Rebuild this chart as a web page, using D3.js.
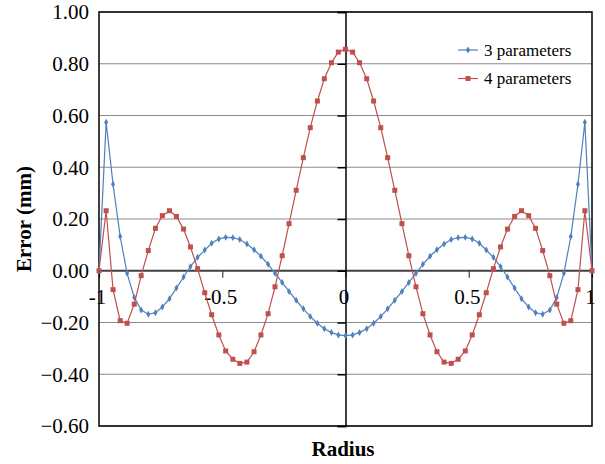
<!DOCTYPE html>
<html>
<head>
<meta charset="utf-8">
<script src="https://cdn.jsdelivr.net/npm/d3@7"></script>
<style>
  html, body { margin: 0; padding: 0; background: #fff; }
  svg { display: block; }
  text { font-family: "Liberation Serif", "Times New Roman", serif; fill: #000; }
</style>
</head>
<body>
<svg id="chart" width="605" height="464"></svg>
<script>
// Sample radii across the lens aperture
const radius = [
  -1.000, -0.971, -0.943, -0.914, -0.886, -0.857, -0.829, -0.800, -0.771, -0.743,
  -0.714, -0.686, -0.657, -0.629, -0.600, -0.571, -0.543, -0.514, -0.486, -0.457,
  -0.429, -0.400, -0.371, -0.343, -0.314, -0.286, -0.257, -0.229, -0.200, -0.171,
  -0.143, -0.114, -0.086, -0.057, -0.029, 0.000,
  0.029, 0.057, 0.086, 0.114, 0.143, 0.171, 0.200, 0.229, 0.257, 0.286,
  0.314, 0.343, 0.371, 0.400, 0.429, 0.457, 0.486, 0.514, 0.543, 0.571,
  0.600, 0.629, 0.657, 0.686, 0.714, 0.743, 0.771, 0.800, 0.829, 0.857,
  0.886, 0.914, 0.943, 0.971, 1.000
];

// Fit error (mm), 3-parameter model
const error3 = [
  0.000, 0.574, 0.334, 0.132, -0.010, -0.103, -0.152, -0.168, -0.162, -0.140,
  -0.108, -0.067, -0.024, 0.016, 0.052, 0.080, 0.106, 0.123, 0.129, 0.128,
  0.121, 0.103, 0.081, 0.056, 0.025, -0.010, -0.045, -0.080, -0.114, -0.147,
  -0.177, -0.203, -0.224, -0.239, -0.248, -0.251,
  -0.248, -0.239, -0.224, -0.203, -0.177, -0.147, -0.114, -0.080, -0.045, -0.010,
  0.025, 0.056, 0.081, 0.103, 0.121, 0.128, 0.129, 0.123, 0.106, 0.080,
  0.052, 0.016, -0.024, -0.067, -0.108, -0.140, -0.162, -0.168, -0.152, -0.103,
  -0.010, 0.132, 0.334, 0.574, 0.000
];

// Fit error (mm), 4-parameter model
const error4 = [
  0.000, 0.232, -0.073, -0.193, -0.203, -0.129, -0.019, 0.078, 0.164, 0.213,
  0.232, 0.210, 0.161, 0.092, 0.008, -0.085, -0.170, -0.248, -0.310, -0.342,
  -0.358, -0.353, -0.313, -0.248, -0.166, -0.062, 0.058, 0.182, 0.311, 0.437,
  0.553, 0.656, 0.742, 0.804, 0.845, 0.856,
  0.845, 0.804, 0.742, 0.656, 0.553, 0.437, 0.311, 0.182, 0.058, -0.062,
  -0.166, -0.248, -0.313, -0.353, -0.358, -0.342, -0.310, -0.248, -0.170, -0.085,
  0.008, 0.092, 0.161, 0.210, 0.232, 0.213, 0.164, 0.078, -0.019, -0.129,
  -0.203, -0.193, -0.073, 0.232, 0.000
];

const seriesNames = ["3 parameters", "4 parameters"];
const yTicks = [-0.6, -0.4, -0.2, 0, 0.2, 0.4, 0.6, 0.8, 1.0];
const xTicks = [-1, -0.5, 0, 0.5, 1];

const blue = "#4F81BD", red = "#C0504D";

const svg = d3.select("#chart");
const plot = { left: 99, top: 12, right: 592, bottom: 426 };

const x = d3.scaleLinear().domain([-1, 1]).range([plot.left, plot.right]);
const y = d3.scaleLinear().domain([-0.6, 1.0]).range([plot.bottom, plot.top]);

// horizontal gridlines
svg.append("g")
  .selectAll("line")
  .data(yTicks.filter(v => v !== 0))
  .join("line")
  .attr("x1", plot.left).attr("x2", plot.right)
  .attr("y1", d => y(d)).attr("y2", d => y(d))
  .attr("stroke", "#8c8c8c").attr("stroke-width", 1);

// y tick labels along the left edge of the plot
svg.append("g")
  .selectAll("text")
  .data(yTicks)
  .join("text")
  .attr("x", plot.left - 10)
  .attr("y", d => y(d))
  .attr("dy", "0.35em")
  .attr("text-anchor", "end")
  .attr("font-size", 21)
  .text(d => d3.format(".2f")(d));

// horizontal axis through y = 0
const xAxis = d3.axisBottom(x)
  .tickValues(xTicks)
  .tickSize(7)
  .tickFormat(d => String(d));
const gx = svg.append("g")
  .attr("transform", `translate(0,${y(0)})`)
  .call(xAxis);
gx.select(".domain").remove();
gx.selectAll(".tick line").attr("stroke", "#404040").attr("stroke-width", 1.2);
gx.selectAll(".tick text")
  .attr("font-family", "Liberation Serif, Times New Roman, serif")
  .attr("font-size", 21)
  .attr("fill", "#000")
  .attr("dx", -2)
  .attr("y", 18);
svg.append("line")
  .attr("x1", plot.left).attr("x2", plot.right)
  .attr("y1", y(0)).attr("y2", y(0))
  .attr("stroke", "#404040").attr("stroke-width", 2);

// vertical axis through x = 0
const yAxis = d3.axisLeft(y).tickValues(yTicks).tickSize(8).tickFormat("");
const gy = svg.append("g")
  .attr("transform", `translate(${x(0)},0)`)
  .call(yAxis);
gy.select(".domain").attr("stroke", "#000").attr("stroke-width", 1.5);
gy.selectAll(".tick line").attr("stroke", "#000").attr("stroke-width", 1.5);

// plot frame
svg.append("rect")
  .attr("x", plot.left).attr("y", plot.top)
  .attr("width", plot.right - plot.left).attr("height", plot.bottom - plot.top)
  .attr("fill", "none").attr("stroke", "#000").attr("stroke-width", 1.5);

const line = d3.line().x(d => x(d[0])).y(d => y(d[1]));
const diamond = d3.symbol().type(d3.symbolDiamond).size(14);

function drawSeries(values, color, marker) {
  const pts = radius.map((r, i) => [r, values[i]]);
  const g = svg.append("g");
  g.append("path")
    .datum(pts)
    .attr("d", line)
    .attr("fill", "none")
    .attr("stroke", color)
    .attr("stroke-width", 1.2);
  if (marker === "diamond") {
    g.selectAll("path.m").data(pts).join("path")
      .attr("class", "m")
      .attr("transform", d => `translate(${x(d[0])},${y(d[1])})`)
      .attr("d", diamond)
      .attr("fill", color);
  } else {
    g.selectAll("rect").data(pts).join("rect")
      .attr("x", d => x(d[0]) - 2.5).attr("y", d => y(d[1]) - 2.5)
      .attr("width", 5).attr("height", 5)
      .attr("fill", color);
  }
}
drawSeries(error3, blue, "diamond");
drawSeries(error4, red, "square");

// legend
const legend = svg.append("g");
[[seriesNames[0], blue, "diamond", 50], [seriesNames[1], red, "square", 78.5]].forEach(([name, color, marker, ly]) => {
  legend.append("line")
    .attr("x1", 458).attr("x2", 478).attr("y1", ly).attr("y2", ly)
    .attr("stroke", color).attr("stroke-width", 1.2);
  if (marker === "diamond") {
    legend.append("path").attr("transform", `translate(468,${ly})`).attr("d", diamond).attr("fill", color);
  } else {
    legend.append("rect").attr("x", 465.5).attr("y", ly - 2.5).attr("width", 5).attr("height", 5).attr("fill", color);
  }
  legend.append("text")
    .attr("x", 484).attr("y", ly).attr("dy", "0.35em")
    .attr("font-size", 17)
    .text(name);
});

// axis titles
svg.append("text")
  .attr("transform", `translate(31,${(plot.top + plot.bottom) / 2}) rotate(-90)`)
  .attr("text-anchor", "middle")
  .attr("font-size", 21)
  .attr("font-weight", "bold")
  .text("Error (mm)");

svg.append("text")
  .attr("x", 343).attr("y", 456)
  .attr("text-anchor", "middle")
  .attr("font-size", 21)
  .attr("font-weight", "bold")
  .text("Radius");
</script>
</body>
</html>
